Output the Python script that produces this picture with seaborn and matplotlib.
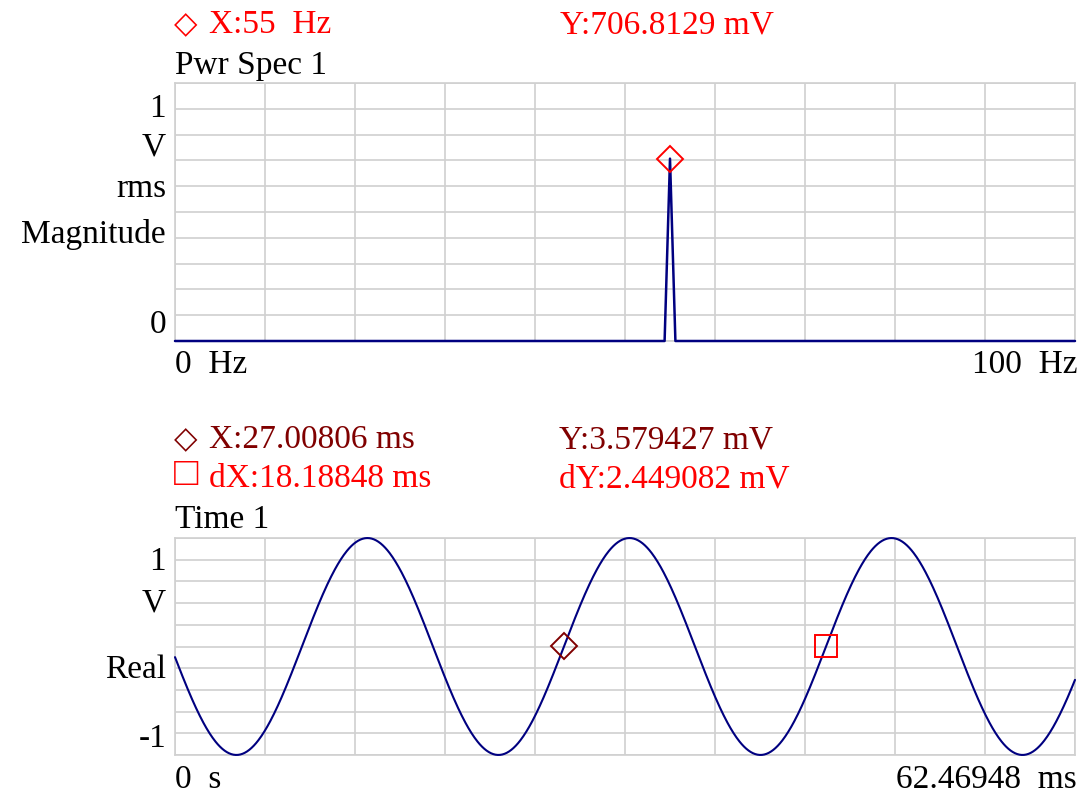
import numpy as np
import pandas as pd
import matplotlib
matplotlib.use("Agg")
import matplotlib.pyplot as plt
import seaborn as sns

# ---- power spectrum (V rms) ----
spec_freq_hz = [0.0, 54.4, 55.0, 55.6, 100.0]
spec_mag_v = [0.0, 0.0, 0.7068129, 0.0, 0.0]
spec_marker_hz = 55.0
spec_marker_v = 0.7068129

# ---- time record ----
record_ms = 62.46948
sig_amp_v = 0.99958          # peak amplitude
sig_period_ms = 18.18848     # one cycle
sig_zero_ms = 26.998         # rising zero crossing
cursor_x_ms = 27.00806
cursor_y_v = 0.003579427
delta_x_ms = 18.18848
delta_y_v = 0.002449082

# ---- texts ----
top_cursor_x = "X:55  Hz"
top_cursor_y = "Y:706.8129 mV"
top_title = "Pwr Spec 1"
top_ylabels = ["1", "V", "rms", "Magnitude", "0"]
top_xlabels = ["0  Hz", "100  Hz"]
bot_cursor_x = "X:27.00806 ms"
bot_cursor_y = "Y:3.579427 mV"
bot_delta_x = "dX:18.18848 ms"
bot_delta_y = "dY:2.449082 mV"
bot_title = "Time 1"
bot_ylabels = ["1", "V", "Real", "-1"]
bot_xlabels = ["0  s", "62.46948  ms"]

sns.set_theme(style="white")
plt.rcParams["font.family"] = ["Liberation Serif", "DejaVu Sans"]

W, H = 1082, 793
fig = plt.figure(figsize=(W / 100, H / 100), dpi=100)
fig.patch.set_facecolor("white")

NAVY = "#000080"
RED = "#ff0000"
MAROON = "#800000"
GRID = "#d0d0d0"
FS = 24
DIAMOND = "\u25c7"
SQUARE = "\u25a1"


def px(x, y):
    return x / W, 1 - y / H


def frame(ax, xlim, ylim):
    ax.set_xlim(*xlim)
    ax.set_ylim(*ylim)
    ax.set_xticks(np.linspace(xlim[0], xlim[1], 11))
    ax.set_yticks(np.linspace(ylim[0], ylim[1], 11))
    ax.set_xticklabels([])
    ax.set_yticklabels([])
    ax.tick_params(length=0)
    ax.grid(True, color=GRID, linewidth=1.2)
    ax.set_axisbelow(True)
    for s in ax.spines.values():
        s.set_color(GRID)
        s.set_linewidth(1.2)
        s.set_zorder(1.5)
    ax.set_xlabel("")
    ax.set_ylabel("")
    ax.set_facecolor("white")


def ftext(x, y, s, color="black", ha="left", size=FS):
    fx, fy = px(x, y)
    fig.text(fx, fy, s, color=color, ha=ha, va="baseline", fontsize=size,
             family=["Liberation Serif", "DejaVu Sans"])


def cursor_line(y, glyph, label, color, glyph_size=22, glyph_dy=0):
    ftext(174, y + glyph_dy, glyph, color, size=glyph_size)
    ftext(209, y, label, color)


# ---- top panel: spectrum ----
ax1 = fig.add_axes([175 / W, 1 - 341 / H, 900 / W, 258 / H])
spec = pd.DataFrame({"f": spec_freq_hz, "m": spec_mag_v})
sns.lineplot(data=spec, x="f", y="m", ax=ax1, color=NAVY, linewidth=1.8,
             clip_on=False, zorder=3)
ax1.plot([spec_marker_hz], [spec_marker_v], marker="D", markersize=13,
         markerfacecolor="none", markeredgecolor=RED, markeredgewidth=1.4,
         linestyle="none", clip_on=False, zorder=4)
frame(ax1, (0, 100), (0, 1))

cursor_line(33, DIAMOND, top_cursor_x, RED)
ftext(560, 33, top_cursor_y, RED)
ftext(175, 74, top_title)
for lbl, yb in zip(top_ylabels, [117, 155, 197, 243, 333]):
    ftext(166, yb, lbl, ha="right")
ftext(175, 373, top_xlabels[0])
ftext(1077, 373, top_xlabels[1], ha="right")

# ---- bottom panel: time record ----
ax2 = fig.add_axes([175 / W, 1 - 755 / H, 900 / W, 217 / H])
t_ms = np.linspace(0, record_ms, 1200)
sig = pd.DataFrame({
    "t": t_ms,
    "v": sig_amp_v * np.sin(2 * np.pi * (t_ms - sig_zero_ms) / sig_period_ms),
})
sns.lineplot(data=sig, x="t", y="v", ax=ax2, color=NAVY, linewidth=1.5,
             clip_on=False, zorder=3)
ax2.plot([cursor_x_ms], [cursor_y_v], marker="D", markersize=13,
         markerfacecolor="none", markeredgecolor=MAROON, markeredgewidth=1.4,
         linestyle="none", zorder=4)
ax2.plot([cursor_x_ms + delta_x_ms], [cursor_y_v + delta_y_v], marker="s",
         markersize=16, markerfacecolor="none", markeredgecolor=RED,
         markeredgewidth=1.4, linestyle="none", zorder=4)
frame(ax2, (0, record_ms), (-1, 1))

cursor_line(448, DIAMOND, bot_cursor_x, MAROON)
ftext(559, 448, bot_cursor_y, MAROON)
cursor_line(487, SQUARE, bot_delta_x, RED, glyph_size=29, glyph_dy=-2)
ftext(559, 487, bot_delta_y, RED)
ftext(175, 528, bot_title)
for lbl, yb in zip(bot_ylabels, [570, 612, 678, 747]):
    ftext(166, yb, lbl, ha="right")
ftext(175, 788, bot_xlabels[0])
ftext(1077, 788, bot_xlabels[1], ha="right")

fig.savefig("out.png", dpi=100)
